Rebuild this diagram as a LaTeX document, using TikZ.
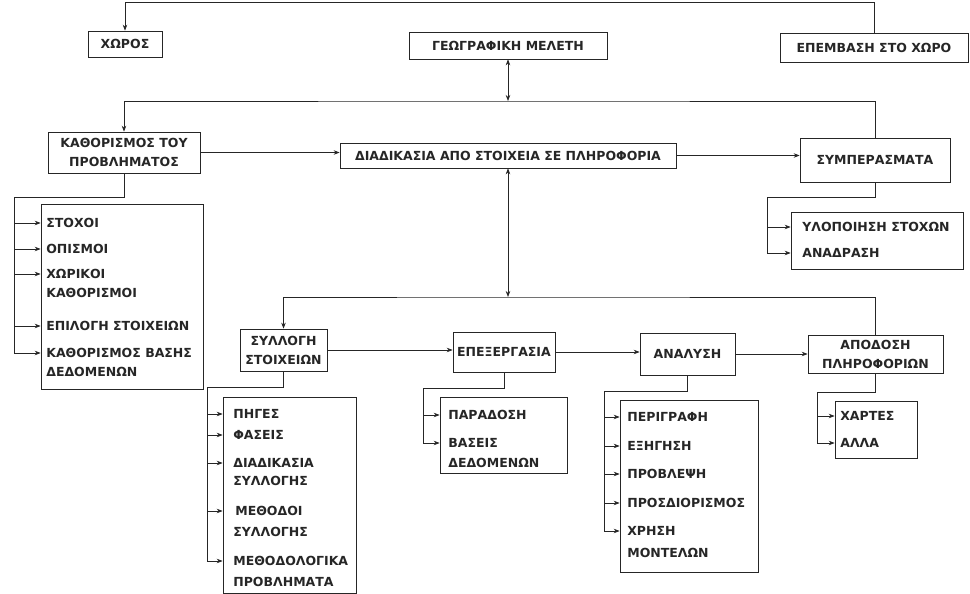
\documentclass[tikz,border=0pt]{standalone}
\usepackage{fontspec}
\setmainfont{DejaVu Sans}
\usepackage{tikz}
\usepackage{xcolor}
\usetikzlibrary{arrows.meta}

\tikzset{
  box/.style={draw, inner xsep=3pt, inner ysep=2pt, align=center},
  item/.style={anchor=west, inner sep=0pt},
}

\begin{document}
\begin{tikzpicture}[x=1pt, y=-1pt, color=black!85, line width=0.7pt,
    font=\fontsize{12.5}{19}\selectfont\bfseries,
    >={Stealth[length=6pt, width=4.5pt]}]
    \useasboundingbox (0, 0) rectangle (970, 594);
    \path (125, 44) node [box, minimum width=74, minimum height=26] (xoros) {ΧΩΡΟΣ};
    \path (508, 45.5) node [box, minimum width=198, minimum height=27] (geo) {ΓΕΩΓΡΑΦΙΚΗ ΜΕΛΕΤΗ};
    \path (874, 47.5) node [box, minimum width=188, minimum height=29] (epemv) {ΕΠΕΜΒΑΣΗ ΣΤΟ ΧΩΡΟ};
    \draw [->] (epemv.north) -- ++(0, -30) -| (xoros.north);
    \path (124, 152.5) node [box, minimum width=152, minimum height=41] (kath) {ΚΑΘΟΡΙΣΜΟΣ ΤΟΥ\\ΠΡΟΒΛΗΜΑΤΟΣ};
    \path (508, 155.5) node [box, minimum width=336, minimum height=25] (diad) {ΔΙΑΔΙΚΑΣΙΑ ΑΠΟ ΣΤΟΙΧΕΙΑ ΣΕ ΠΛΗΡΟΦΟΡΙΑ};
    \path (875, 160) node [box, minimum width=150, minimum height=44] (symp) {ΣΥΜΠΕΡΑΣΜΑΤΑ};
    \path (508, 101) coordinate (bus1);
    \draw [<->] (geo.south) -- (bus1);
    \draw [->] (symp.north) |- (bus1) -| (kath.north);
    \draw [->] (kath.east) -- (kath.east -| diad.west);
    \draw [->] (diad.east) -- (diad.east -| symp.west);

    \path (122, 296.5) node [box, minimum width=162, minimum height=185] (kathlist) {};
    \path (46, 223) node [item] (k1) {ΣΤΟΧΟΙ};
    \path (46, 249) node [item] (k2) {ΟΠΙΣΜΟΙ};
    \path (46, 274) node [item] (k3) {ΧΩΡΙΚΟΙ};
    \path (46, 293) node [item] (k3b) {ΚΑΘΟΡΙΣΜΟΙ};
    \path (46, 326) node [item] (k4) {ΕΠΙΛΟΓΗ ΣΤΟΙΧΕΙΩΝ};
    \path (46, 353) node [item] (k5) {ΚΑΘΟΡΙΣΜΟΣ ΒΑΣΗΣ};
    \path (46, 372) node [item] (k5b) {ΔΕΔΟΜΕΝΩΝ};
    \path (14, 197) coordinate (kathbus);
    \draw (kath.south) |- (kathbus) -- (kathbus |- k5);
    \draw [->] (kathbus |- k1) -- (kathlist.west |- k1);
    \draw [->] (kathbus |- k2) -- (kathlist.west |- k2);
    \draw [->] (kathbus |- k3) -- (kathlist.west |- k3);
    \draw [->] (kathbus |- k4) -- (kathlist.west |- k4);
    \draw [->] (kathbus |- k5) -- (kathlist.west |- k5);

    \path (877, 240.5) node [box, minimum width=172, minimum height=57] (ylolist) {};
    \path (802, 227) node [item] (y1) {ΥΛΟΠΟΙΗΣΗ ΣΤΟΧΩΝ};
    \path (802, 253) node [item] (y2) {ΑΝΑΔΡΑΣΗ};
    \path (767, 197) coordinate (ylobus);
    \draw (symp.south) |- (ylobus) -- (ylobus |- y2);
    \draw [->] (ylobus |- y1) -- (ylolist.west |- y1);
    \draw [->] (ylobus |- y2) -- (ylolist.west |- y2);

    \path (283.5, 350) node [box, minimum width=87, minimum height=42] (syl) {ΣΥΛΛΟΓΗ\\ΣΤΟΙΧΕΙΩΝ};
    \path (504, 352) node [box, minimum width=102, minimum height=40] (epex) {ΕΠΕΞΕΡΓΑΣΙΑ};
    \path (687.5, 354) node [box, minimum width=95, minimum height=42] (anal) {ΑΝΑΛΥΣΗ};
    \path (875.5, 354) node [box, minimum width=135, minimum height=38] (apod) {ΑΠΟΔΟΣΗ\\ΠΛΗΡΟΦΟΡΙΩΝ};
    \path (508, 297) coordinate (bus2);
    \draw [<->] (diad.south) -- (bus2);
    \draw [->] (apod.north) |- (bus2) -| (syl.north);
    \draw [->] (syl.east) -- (syl.east -| epex.west);
    \draw [->] (epex.east) -- (epex.east -| anal.west);
    \draw [->] (anal.east) -- (anal.east -| apod.west);

    \path (289.5, 495) node [box, minimum width=133, minimum height=196] (syllist) {};
    \path (233, 414) node [item] (s1) {ΠΗΓΕΣ};
    \path (233, 435) node [item] (s2) {ΦΑΣΕΙΣ};
    \path (233, 463) node [item] (s3) {ΔΙΑΔΙΚΑΣΙΑ};
    \path (233, 481) node [item] (s3b) {ΣΥΛΛΟΓΗΣ};
    \path (235, 511) node [item] (s4) {ΜΕΘΟΔΟΙ};
    \path (233, 532) node [item] (s4b) {ΣΥΛΛΟΓΗΣ};
    \path (233, 561) node [item] (s5) {ΜΕΘΟΔΟΛΟΓΙΚΑ};
    \path (233, 582) node [item] (s5b) {ΠΡΟΒΛΗΜΑΤΑ};
    \path (207, 387) coordinate (sylbus);
    \draw (syl.south) |- (sylbus) -- (sylbus |- s5);
    \draw [->] (sylbus |- s1) -- (syllist.west |- s1);
    \draw [->] (sylbus |- s2) -- (syllist.west |- s2);
    \draw [->] (sylbus |- s3) -- (syllist.west |- s3);
    \draw [->] (sylbus |- s4) -- (syllist.west |- s4);
    \draw [->] (sylbus |- s5) -- (syllist.west |- s5);

    \path (503.5, 435) node [box, minimum width=127, minimum height=76] (epexlist) {};
    \path (448, 415) node [item] (e1) {ΠΑΡΑΔΟΣΗ};
    \path (448, 443) node [item] (e2) {ΒΑΣΕΙΣ};
    \path (448, 463) node [item] (e2b) {ΔΕΔΟΜΕΝΩΝ};
    \path (423, 388) coordinate (epexbus);
    \draw (epex.south) |- (epexbus) -- (epexbus |- e2);
    \draw [->] (epexbus |- e1) -- (epexlist.west |- e1);
    \draw [->] (epexbus |- e2) -- (epexlist.west |- e2);

    \path (689, 486) node [box, minimum width=138, minimum height=172] (anallist) {};
    \path (627, 417) node [item] (a1) {ΠΕΡΙΓΡΑΦΗ};
    \path (627, 446) node [item] (a2) {ΕΞΗΓΗΣΗ};
    \path (627, 474) node [item] (a3) {ΠΡΟΒΛΕΨΗ};
    \path (627, 503) node [item] (a4) {ΠΡΟΣΔΙΟΡΙΣΜΟΣ};
    \path (627, 531) node [item] (a5) {ΧΡΗΣΗ};
    \path (627, 553) node [item] (a5b) {ΜΟΝΤΕΛΩΝ};
    \path (604, 391) coordinate (analbus);
    \draw (anal.south) |- (analbus) -- (analbus |- a5);
    \draw [->] (analbus |- a1) -- (anallist.west |- a1);
    \draw [->] (analbus |- a2) -- (anallist.west |- a2);
    \draw [->] (analbus |- a3) -- (anallist.west |- a3);
    \draw [->] (analbus |- a4) -- (anallist.west |- a4);
    \draw [->] (analbus |- a5) -- (anallist.west |- a5);

    \path (876, 429.5) node [box, minimum width=82, minimum height=57] (apodlist) {};
    \path (840, 416) node [item] (p1) {ΧΑΡΤΕΣ};
    \path (840, 443) node [item] (p2) {ΑΛΛΑ};
    \path (817, 392) coordinate (apodbus);
    \draw (apod.south) |- (apodbus) -- (apodbus |- p2);
    \draw [->] (apodbus |- p1) -- (apodlist.west |- p1);
    \draw [->] (apodbus |- p2) -- (apodlist.west |- p2);
\end{tikzpicture}
\end{document}
